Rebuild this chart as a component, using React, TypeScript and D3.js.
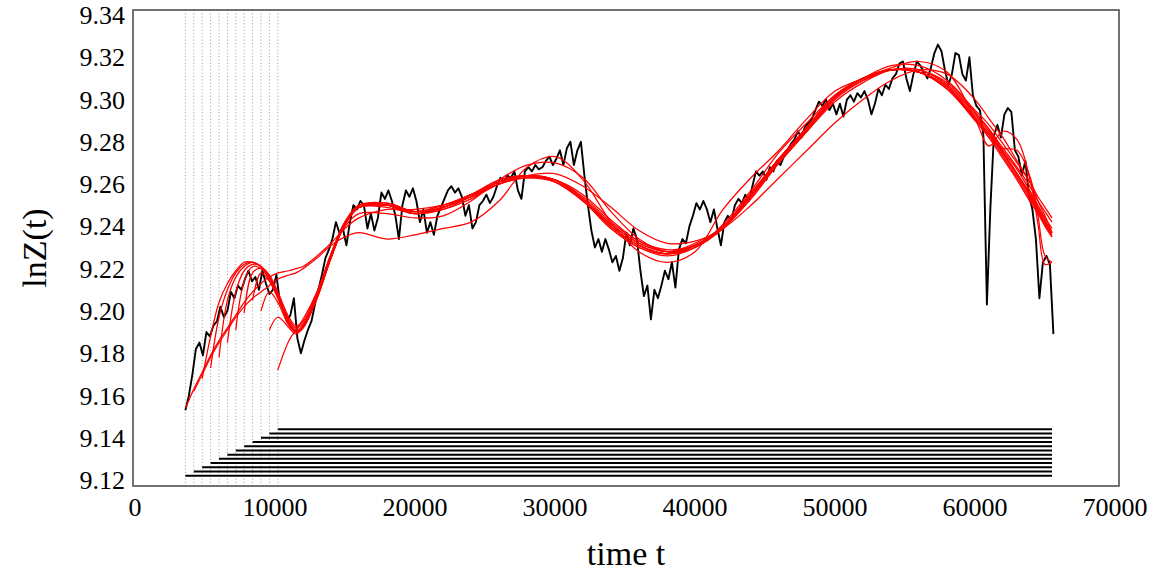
import React from 'react';
import * as d3 from 'd3';

const W = 1156;
const H = 573;

// axis ticks
const xTicks = [0, 10000, 20000, 30000, 40000, 50000, 60000, 70000];
const yTicks = [9.12, 9.14, 9.16, 9.18, 9.2, 9.22, 9.24, 9.26, 9.28, 9.3, 9.32, 9.34];

// start times t0 of the fitting windows (dotted lines) and end time
const t0List = [3600, 4200, 4800, 5400, 6000, 6600, 7200, 7800, 8400, 9000, 9600, 10200];
const endT = 65500;
// levels of the horizontal window bars
const barLevels = [9.122, 9.124, 9.126, 9.128, 9.13, 9.132, 9.134, 9.136, 9.138, 9.14, 9.142, 9.144];

// observed lnZ(t), sampled every 250 time units from t = 3600
const seriesStart = 3600;
const seriesStep = 250;
const lnZ = [
  9.153, 9.160, 9.170, 9.182, 9.185, 9.179, 9.190, 9.188, 9.193, 9.195,
  9.202, 9.197, 9.200, 9.209, 9.206, 9.212, 9.210, 9.215, 9.219, 9.214,
  9.216, 9.210, 9.219, 9.213, 9.208, 9.210, 9.217, 9.204, 9.201, 9.195,
  9.198, 9.206, 9.187, 9.180, 9.186, 9.191, 9.195, 9.203, 9.210, 9.217,
  9.225, 9.229, 9.234, 9.242, 9.237, 9.239, 9.231, 9.242, 9.250, 9.248,
  9.252, 9.250, 9.239, 9.246, 9.238, 9.244, 9.256, 9.253, 9.257, 9.252,
  9.245, 9.234, 9.250, 9.257, 9.254, 9.258, 9.252, 9.242, 9.248, 9.237,
  9.242, 9.236, 9.245, 9.249, 9.253, 9.257, 9.259, 9.256, 9.258, 9.254,
  9.245, 9.250, 9.239, 9.242, 9.250, 9.252, 9.255, 9.251, 9.254, 9.259,
  9.263, 9.261, 9.264, 9.263, 9.266, 9.257, 9.253, 9.266, 9.268, 9.266,
  9.269, 9.267, 9.268, 9.271, 9.273, 9.269, 9.272, 9.276, 9.269, 9.277,
  9.280, 9.269, 9.276, 9.280, 9.264, 9.250, 9.238, 9.230, 9.234, 9.228,
  9.234, 9.229, 9.223, 9.226, 9.219, 9.225, 9.237, 9.231, 9.239, 9.234,
  9.219, 9.207, 9.212, 9.196, 9.210, 9.206, 9.212, 9.219, 9.215, 9.223,
  9.211, 9.229, 9.234, 9.232, 9.240, 9.245, 9.251, 9.248, 9.252, 9.248,
  9.242, 9.248, 9.239, 9.231, 9.242, 9.245, 9.243, 9.250, 9.253, 9.251,
  9.255, 9.252, 9.259, 9.266, 9.264, 9.266, 9.262, 9.268, 9.266, 9.271,
  9.269, 9.273, 9.276, 9.279, 9.281, 9.285, 9.282, 9.287, 9.289, 9.291,
  9.295, 9.299, 9.297, 9.300, 9.295, 9.298, 9.293, 9.298, 9.292, 9.300,
  9.302, 9.299, 9.303, 9.301, 9.304, 9.300, 9.293, 9.298, 9.305, 9.302,
  9.307, 9.305, 9.310, 9.312, 9.317, 9.318, 9.310, 9.304, 9.312, 9.318,
  9.316, 9.313, 9.310, 9.315, 9.322, 9.326, 9.323, 9.314, 9.307, 9.312,
  9.322, 9.321, 9.312, 9.309, 9.320, 9.302, 9.297, 9.295, 9.283, 9.203,
  9.249, 9.283, 9.288, 9.282, 9.293, 9.296, 9.294, 9.276, 9.273, 9.264,
  9.271, 9.255, 9.248, 9.234, 9.206, 9.223, 9.226, 9.222, 9.189,
];

// knot times of the fitted curves; fit k starts at knot k (its t0)
const fitKnotT = [
  3600, 4200, 4800, 5400, 6000, 6600, 7200, 7800, 8400, 9000, 9600, 10200,
  11000, 11500, 12000, 13000, 14000, 15000, 16000,
  18000, 20000, 22000, 24000, 26000, 28000, 30000, 32000, 34000, 36000, 38000, 40000,
  42000, 44000, 46000, 48000, 50000, 52000, 54000, 56000, 58000, 60000,
  61000, 62000, 63000, 64000, 64500, 65000, 65500,
];

const fit0 = [9.154, 9.163, 9.171, 9.179, 9.186, 9.192, 9.198, 9.204, 9.209, 9.213, 9.216, 9.218,
  9.219, 9.220, 9.221, 9.226, 9.232, 9.239, 9.244,
  9.248, 9.248, 9.250, 9.254, 9.260, 9.264, 9.265, 9.259, 9.249, 9.238, 9.232, 9.233, 9.239, 9.250, 9.263, 9.276, 9.289, 9.300, 9.309, 9.314, 9.312, 9.300,
  9.291, 9.282, 9.271, 9.260, 9.252, 9.245, 9.237];
const fit1 = [9.162, 9.170, 9.178, 9.185, 9.191, 9.197, 9.202, 9.206, 9.209, 9.212, 9.215,
  9.217, 9.218, 9.220, 9.225, 9.231, 9.235, 9.237,
  9.234, 9.236, 9.239, 9.242, 9.252, 9.268, 9.273, 9.262, 9.242, 9.228, 9.223, 9.228, 9.248, 9.263, 9.276, 9.291, 9.304, 9.310, 9.315, 9.318, 9.313, 9.291,
  9.278, 9.285, 9.281, 9.260, 9.241, 9.222, 9.223];
const fit2 = [9.168, 9.188, 9.204, 9.213, 9.219, 9.223, 9.223, 9.221, 9.217, 9.209,
  9.197, 9.193, 9.195, 9.209, 9.227, 9.242, 9.249,
  9.249, 9.246, 9.248, 9.253, 9.260, 9.263, 9.262, 9.255, 9.243, 9.233, 9.229, 9.231, 9.239, 9.253, 9.270, 9.285, 9.299, 9.308, 9.314, 9.314, 9.308, 9.295,
  9.288, 9.279, 9.270, 9.260, 9.254, 9.249, 9.244];
const fit3 = [9.173, 9.197, 9.210, 9.218, 9.222, 9.223, 9.221, 9.216, 9.208,
  9.196, 9.192, 9.194, 9.208, 9.227, 9.242, 9.250,
  9.250, 9.246, 9.248, 9.254, 9.260, 9.263, 9.262, 9.254, 9.242, 9.233, 9.228, 9.231, 9.239, 9.254, 9.270, 9.285, 9.300, 9.309, 9.314, 9.314, 9.307, 9.294,
  9.286, 9.277, 9.268, 9.258, 9.252, 9.247, 9.242];
const fit4 = [9.178, 9.205, 9.216, 9.221, 9.223, 9.221, 9.216, 9.208,
  9.195, 9.191, 9.193, 9.208, 9.226, 9.242, 9.250,
  9.250, 9.246, 9.249, 9.254, 9.261, 9.264, 9.262, 9.253, 9.241, 9.232, 9.228, 9.232, 9.240, 9.255, 9.271, 9.286, 9.301, 9.309, 9.314, 9.314, 9.307, 9.293,
  9.286, 9.276, 9.267, 9.256, 9.250, 9.244, 9.239];
const fit5 = [9.185, 9.209, 9.219, 9.222, 9.221, 9.215, 9.207,
  9.194, 9.190, 9.193, 9.207, 9.226, 9.242, 9.250,
  9.251, 9.247, 9.249, 9.255, 9.261, 9.264, 9.262, 9.253, 9.240, 9.231, 9.227, 9.231, 9.240, 9.255, 9.272, 9.286, 9.301, 9.310, 9.314, 9.313, 9.306, 9.291,
  9.284, 9.275, 9.265, 9.254, 9.248, 9.242, 9.237];
const fit6 = [9.191, 9.214, 9.221, 9.220, 9.215, 9.207,
  9.194, 9.190, 9.192, 9.207, 9.225, 9.241, 9.249,
  9.251, 9.247, 9.250, 9.255, 9.262, 9.264, 9.261, 9.252, 9.239, 9.230, 9.227, 9.231, 9.240, 9.256, 9.272, 9.287, 9.302, 9.310, 9.314, 9.313, 9.305, 9.291,
  9.283, 9.273, 9.263, 9.252, 9.247, 9.241, 9.236];
const fit7 = [9.199, 9.218, 9.220, 9.215, 9.207,
  9.194, 9.190, 9.193, 9.207, 9.226, 9.242, 9.249,
  9.250, 9.247, 9.249, 9.255, 9.261, 9.264, 9.261, 9.252, 9.240, 9.231, 9.227, 9.230, 9.239, 9.254, 9.271, 9.286, 9.301, 9.310, 9.314, 9.313, 9.306, 9.291,
  9.284, 9.274, 9.264, 9.253, 9.247, 9.241, 9.235];
const fit8 = [9.205, 9.218, 9.214, 9.206,
  9.194, 9.190, 9.192, 9.206, 9.225, 9.241, 9.249,
  9.250, 9.247, 9.249, 9.255, 9.261, 9.263, 9.261, 9.253, 9.240, 9.231, 9.227, 9.231, 9.240, 9.255, 9.272, 9.286, 9.301, 9.310, 9.314, 9.313, 9.306, 9.292,
  9.285, 9.275, 9.265, 9.255, 9.249, 9.243, 9.237];
const fit9 = [9.200, 9.209, 9.204,
  9.193, 9.190, 9.192, 9.206, 9.225, 9.241, 9.249,
  9.250, 9.247, 9.250, 9.255, 9.261, 9.264, 9.261, 9.252, 9.239, 9.230, 9.226, 9.230, 9.240, 9.255, 9.272, 9.287, 9.302, 9.310, 9.314, 9.313, 9.305, 9.290,
  9.282, 9.272, 9.262, 9.251, 9.246, 9.240, 9.235];
const fit10 = [9.191, 9.197,
  9.192, 9.189, 9.192, 9.206, 9.225, 9.241, 9.249,
  9.250, 9.246, 9.249, 9.254, 9.261, 9.264, 9.262, 9.253, 9.241, 9.232, 9.228, 9.231, 9.240, 9.255, 9.271, 9.286, 9.301, 9.309, 9.314, 9.313, 9.306, 9.291,
  9.284, 9.275, 9.265, 9.254, 9.248, 9.242, 9.237];
const fit11 = [9.172,
  9.186, 9.191, 9.196, 9.209, 9.226, 9.240, 9.246,
  9.246, 9.244, 9.245, 9.252, 9.262, 9.269, 9.270, 9.263, 9.247, 9.234, 9.228, 9.230, 9.241, 9.257, 9.275, 9.289, 9.302, 9.310, 9.316, 9.316, 9.309, 9.294,
  9.282, 9.277, 9.276, 9.262, 9.245, 9.226, 9.223];

const fits = [fit0, fit1, fit2, fit3, fit4, fit5, fit6, fit7, fit8, fit9, fit10, fit11];

// layout
const frame = { left: 133, right: 1119, top: 10, bottom: 486 };
const serif = "'Liberation Serif', 'Times New Roman', serif";

export default function App() {
  const x = d3.scaleLinear().domain([0, 70000]).range([135, 1115]);
  const y = d3.scaleLinear().domain([9.12, 9.34]).range([480, 15]);

  const seriesLine = d3
    .line<number>()
    .x((_, i) => x(seriesStart + i * seriesStep))
    .y((v) => y(v));

  const fitLine = d3
    .line<[number, number]>()
    .x((d) => x(d[0]))
    .y((d) => y(d[1]))
    .curve(d3.curveCatmullRom.alpha(0.5));

  const fitPaths = fits.map((vals, k) =>
    fitLine(vals.map((v, j) => [fitKnotT[k + j], v] as [number, number]))
  );

  return (
    <svg
      width={W}
      height={H}
      style={{ position: 'absolute', left: 0, top: 0, background: '#fff' }}
      fontFamily={serif}
    >
      <rect x={0} y={0} width={W} height={H} fill="#fff" />

      {/* dotted window start lines */}
      {t0List.map((t) => (
        <line
          key={'d' + t}
          x1={x(t)}
          x2={x(t)}
          y1={frame.top}
          y2={frame.bottom}
          stroke="#9a9a9a"
          strokeWidth={1}
          strokeDasharray="1 2.3"
        />
      ))}

      {/* horizontal window bars */}
      {t0List.map((t, i) => (
        <line
          key={'b' + t}
          x1={x(t)}
          x2={x(endT)}
          y1={y(barLevels[i])}
          y2={y(barLevels[i])}
          stroke="#000"
          strokeWidth={2}
        />
      ))}

      {/* observed series */}
      <path d={seriesLine(lnZ) || ''} fill="none" stroke="#000" strokeWidth={1.9} strokeLinejoin="round" />

      {/* fitted curves */}
      {fitPaths.map((p, k) => (
        <path key={'f' + k} d={p || ''} fill="none" stroke="#ff0000" strokeWidth={1.25} />
      ))}

      {/* frame */}
      <rect
        x={frame.left}
        y={frame.top}
        width={frame.right - frame.left}
        height={frame.bottom - frame.top}
        fill="none"
        stroke="#444"
        strokeWidth={1.5}
      />

      {/* y tick labels */}
      {yTicks.map((v) => (
        <text key={'yt' + v} x={125} y={y(v)} dy="0.35em" textAnchor="end" fontSize={26} fill="#000">
          {v.toFixed(2)}
        </text>
      ))}

      {/* x tick labels */}
      {xTicks.map((t) => (
        <text key={'xt' + t} x={x(t)} y={516} textAnchor="middle" fontSize={26} fill="#000">
          {t}
        </text>
      ))}

      <text x={(frame.left + frame.right) / 2} y={565} textAnchor="middle" fontSize={34} fill="#000">
        time t
      </text>
      <text transform={`translate(46, ${(frame.top + frame.bottom) / 2}) rotate(-90)`} textAnchor="middle" fontSize={34} fill="#000">
        lnZ(t)
      </text>
    </svg>
  );
}
